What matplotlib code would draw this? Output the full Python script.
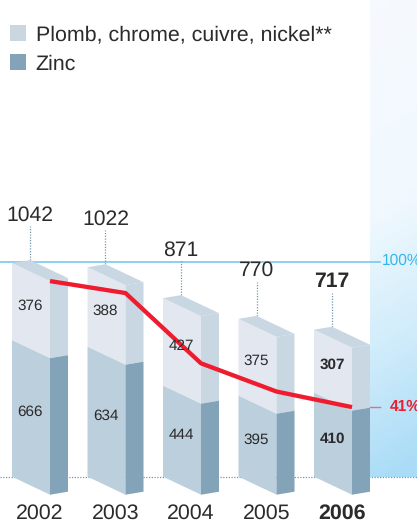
import matplotlib
matplotlib.use('Agg')
import matplotlib.pyplot as plt
import numpy as np
from matplotlib.patches import Polygon, Patch

plt.rcParams['font.family'] = ['Liberation Sans', 'DejaVu Sans']
plt.rcParams['text.hinting'] = 'none'

years = ['2002', '2003', '2004', '2005', '2006']
plomb = [376, 388, 427, 375, 307]
zinc = [666, 634, 444, 395, 410]
totals = [1042, 1022, 871, 770, 717]
percent = [100, 94.4, 61.5, 48.3, 41]

W, H = 417, 527
PX_Y = 0.205   # pixels per unit
PX_X = 75.5    # pixels between bars
BASE = 476.7   # pixel row of zero
LEFT = 12

front_w = 38 / PX_X
side_w = 18 / PX_X
peak_w = 18 / PX_X
drop = 18 / PX_Y
side_drop = 15 / PX_Y
peak_up = 3 / PX_Y

light_front = '#e3e8f0'
light_side = '#c9d7e3'
dark_front = '#bccfdc'
dark_side = '#82a3b8'
text_col = '#2b2a2c'
dot_col = '#7398b4'

fig = plt.figure(figsize=(W / 100, H / 100), dpi=100)
ax = fig.add_axes([0, 0, 1, 1])

# x and y helpers for things placed by pixel
px = lambda v: (v - LEFT) / PX_X
up = lambda v: v / PX_Y

# blue panel on the right
gx, gy = np.meshgrid(np.linspace(0, 1, 60), np.linspace(0, 1, 480))
grad = np.clip(gy + gx * 0.06 - 0.03, 0, 1)
cmap = matplotlib.colors.LinearSegmentedColormap.from_list(
    'panel', [(0, '#f6faff'), (0.42, '#f1f9fe'), (0.7, '#d2edfb'), (1, '#aadcf7')])
ax.imshow(grad, cmap=cmap, origin='upper', aspect='auto', vmin=0, vmax=1, zorder=0,
          interpolation='bilinear', extent=[px(370), px(417), 0, BASE / PX_Y])
ax.set_xlim(-LEFT / PX_X, (W - LEFT) / PX_X)
ax.set_ylim(-(H - BASE) / PX_Y, BASE / PX_Y)
ax.axis('off')

# reference lines
ax.plot([px(0), px(417)], [0, 0], color=dot_col, lw=0.9, ls=(0, (1, 1.2)), zorder=1)
ax.plot([px(0), px(380)], [totals[0] + up(1.2)] * 2, color='#6cc5ee', lw=1.1, zorder=1)
ax.plot([px(370), px(380)], [up(BASE - 407)] * 2, color='#e0707f', lw=1.0, zorder=1)
ax.text(px(381.5), up(BASE - 261), '100%', color='#35b5ee', fontsize=11.2, va='center', ha='left')
ax.text(px(390), up(BASE - 407), '41%', color='#ee1c2e', fontsize=11.2, fontweight='bold', va='center', ha='left')

for i, (a, b, t) in enumerate(zip(plomb, zinc, totals)):
    mid = i + peak_w
    weight = 'bold' if i == len(years) - 1 else 'normal'
    r = i + front_w
    rr = r + side_w
    ax.add_patch(Polygon([(i, b), (r, b - drop), (r, t - drop), (i, t)], fc=light_front, ec='none', zorder=3))
    ax.add_patch(Polygon([(i, 0), (r, -drop), (r, b - drop), (i, b)], fc=dark_front, ec='none', zorder=3))
    ax.add_patch(Polygon([(r, b - drop), (rr, b - side_drop), (rr, t - side_drop), (r, t - drop)], fc=light_side, ec='none', zorder=3))
    ax.add_patch(Polygon([(r, -drop), (rr, -side_drop), (rr, b - side_drop), (r, b - drop)], fc=dark_side, ec='none', zorder=3))
    ax.add_patch(Polygon([(i, t), (mid, t + peak_up), (rr, t - side_drop), (r, t - drop)], fc=light_side, ec='none', zorder=3))

    # dotted leader and total
    ax.plot([mid, mid], [t + peak_up, t + peak_up + up(34)], color=dot_col, lw=0.9, ls=(0, (1, 1.2)), zorder=2)
    ax.text(mid, t + peak_up + up(45), str(t), ha='center', va='center', fontsize=15.2,
            color=text_col, fontweight=weight, zorder=6)

    ax.text(mid, b + a / 2 - up(4), str(a), ha='center', va='center', fontsize=11,
            color=text_col, fontweight=weight, zorder=6)
    ax.text(mid, b / 2 - up(4), str(b), ha='center', va='center', fontsize=11,
            color=text_col, fontweight=weight, zorder=6)
    ax.text(i + 28 / PX_X, -up(37), years[i], ha='center', va='center', fontsize=15.4,
            color=text_col, fontweight=weight, zorder=6)

# red line sits on the front corner of the bars
line_x = np.arange(len(years)) + front_w
line_y = np.array(percent) * totals[0] / 100 - drop
ax.plot(line_x, line_y, color='#ee1c2e', lw=3.1, solid_joinstyle='round', solid_capstyle='butt', zorder=5)

handles = [Patch(fc=light_side, ec='none', label='Plomb, chrome, cuivre, nickel**'),
           Patch(fc=dark_side, ec='none', label='Zinc')]
ax.legend(handles=handles, loc='upper left', bbox_to_anchor=(10 / W, 1 - 25 / H), frameon=False,
          fontsize=15.4, handlelength=0.75, handleheight=0.75, handletextpad=0.45,
          labelspacing=0.46, borderpad=0, borderaxespad=0, labelcolor=text_col)

fig.savefig('out.png', dpi=100)
